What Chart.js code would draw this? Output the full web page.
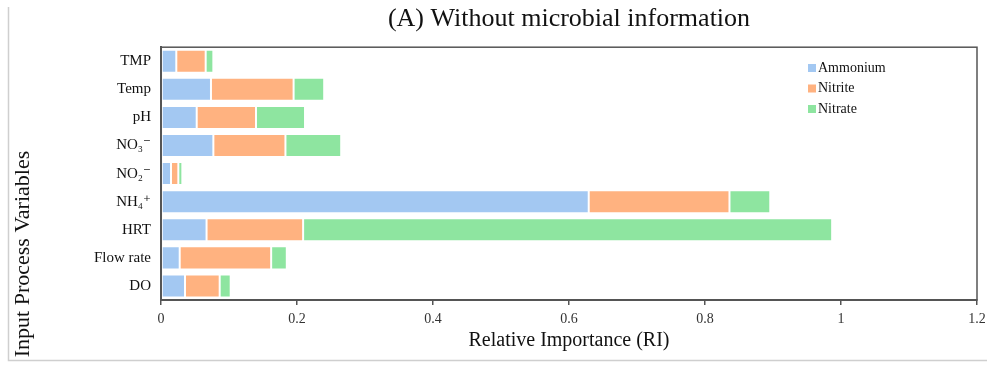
<!DOCTYPE html>
<html>
<head>
<meta charset="utf-8">
<script src="https://cdn.jsdelivr.net/npm/chart.js@4/dist/chart.umd.min.js"></script>
<style>
  html, body { margin: 0; padding: 0; background: #fff; }
  #wrap { position: relative; width: 987px; height: 370px; }
  canvas { display: block; }
</style>
</head>
<body>
<div id="wrap"><canvas id="c" width="987" height="370"></canvas></div>
<script>
// Input variables (top to bottom) and the relative importance for each target
const variables = ['TMP', 'Temp', 'pH', 'NO\u2083\u207B', 'NO\u2082\u207B', 'NH\u2084\u207A', 'HRT', 'Flow rate', 'DO'];
const ammonium = [0.0225, 0.0735, 0.0525, 0.077, 0.0147, 0.629, 0.067, 0.0275, 0.0353];
const nitrite  = [0.0432, 0.1215, 0.0872, 0.106, 0.0108, 0.207, 0.142, 0.1345, 0.051];
const nitrate  = [0.0113, 0.045, 0.0721, 0.082, 0.0059, 0.060, 0.778, 0.023, 0.0162];
const xTicks = [0, 0.2, 0.4, 0.6, 0.8, 1, 1.2];

const SERIF = '"Liberation Serif", "DejaVu Serif", serif';
const COLORS = { ammonium: '#a3c8f2', nitrite: '#ffb280', nitrate: '#8ee5a0' };

// Frame lines of the figure, box around the plot, legend and vertical axis title
const decorations = {
  id: 'decorations',
  beforeDraw(chart) {
    const ctx = chart.ctx;
    ctx.save();
    ctx.strokeStyle = '#cfcfcf';
    ctx.lineWidth = 1.5;
    ctx.beginPath();
    ctx.moveTo(8.5, 7);
    ctx.lineTo(8.5, 360.5);
    ctx.lineTo(987, 360.5);
    ctx.stroke();
    ctx.restore();
  },
  afterDraw(chart) {
    const ctx = chart.ctx;
    const a = chart.chartArea;
    ctx.save();
    ctx.strokeStyle = '#555';
    ctx.lineWidth = 1.5;
    ctx.strokeRect(a.left, a.top, a.right - a.left, a.bottom - a.top);

    // legend
    ctx.font = '14px ' + SERIF;
    ctx.textBaseline = 'middle';
    ctx.textAlign = 'left';
    chart.data.datasets.forEach((ds, i) => {
      const y = 68 + i * 20.5;
      ctx.fillStyle = ds.backgroundColor;
      ctx.fillRect(808, y - 4, 8, 8);
      ctx.fillStyle = '#111';
      ctx.fillText(ds.label, 818, y);
    });

    // vertical axis title
    ctx.translate(23, 254);
    ctx.rotate(-Math.PI / 2);
    ctx.textAlign = 'center';
    ctx.font = '22px ' + SERIF;
    ctx.fillStyle = '#111';
    ctx.fillText('Input Process Variables', 0, 0);
    ctx.restore();
  }
};

new Chart(document.getElementById('c'), {
  type: 'bar',
  data: {
    labels: variables,
    datasets: [
      { label: 'Ammonium', data: ammonium, backgroundColor: COLORS.ammonium },
      { label: 'Nitrite',  data: nitrite,  backgroundColor: COLORS.nitrite },
      { label: 'Nitrate',  data: nitrate,  backgroundColor: COLORS.nitrate }
    ]
  },
  options: {
    indexAxis: 'y',
    responsive: false,
    animation: false,
    layout: { padding: { left: 0, right: 10, top: 0, bottom: 12 } },
    datasets: {
      bar: {
        categoryPercentage: 1,
        barPercentage: 0.82,
        borderColor: 'rgba(255,255,255,0.7)',
        borderWidth: 1,
        borderSkipped: false
      }
    },
    plugins: {
      legend: { display: false },
      tooltip: { enabled: false },
      title: {
        display: true,
        fullSize: false,
        text: '(A) Without microbial information',
        color: '#111',
        font: { family: SERIF, size: 26, weight: 'normal' },
        padding: { top: 4, bottom: 12 }
      }
    },
    scales: {
      x: {
        stacked: true,
        min: 0,
        max: 1.2,
        afterBuildTicks(scale) { scale.ticks = xTicks.map(v => ({ value: v })); },
        afterFit(scale) { scale.height = 58; scale.paddingRight = 0; },
        ticks: {
          color: '#333',
          font: { family: SERIF, size: 14 },
          padding: 6,
          callback: v => String(v)
        },
        grid: { drawOnChartArea: false, drawTicks: true, tickLength: 5, color: '#555', lineWidth: 1.5 },
        border: { display: true, color: '#555', width: 2 },
        title: {
          display: true,
          text: 'Relative Importance (RI)',
          color: '#111',
          font: { family: SERIF, size: 20 },
          padding: { top: 2, bottom: 5 }
        }
      },
      y: {
        stacked: true,
        afterFit(scale) { scale.width = 161; },
        ticks: {
          color: '#111',
          font: { family: SERIF, size: 15 },
          padding: 10
        },
        grid: { display: false, drawTicks: false },
        border: { display: true, color: '#555', width: 2 }
      }
    }
  },
  plugins: [decorations]
});
</script>
</body>
</html>
